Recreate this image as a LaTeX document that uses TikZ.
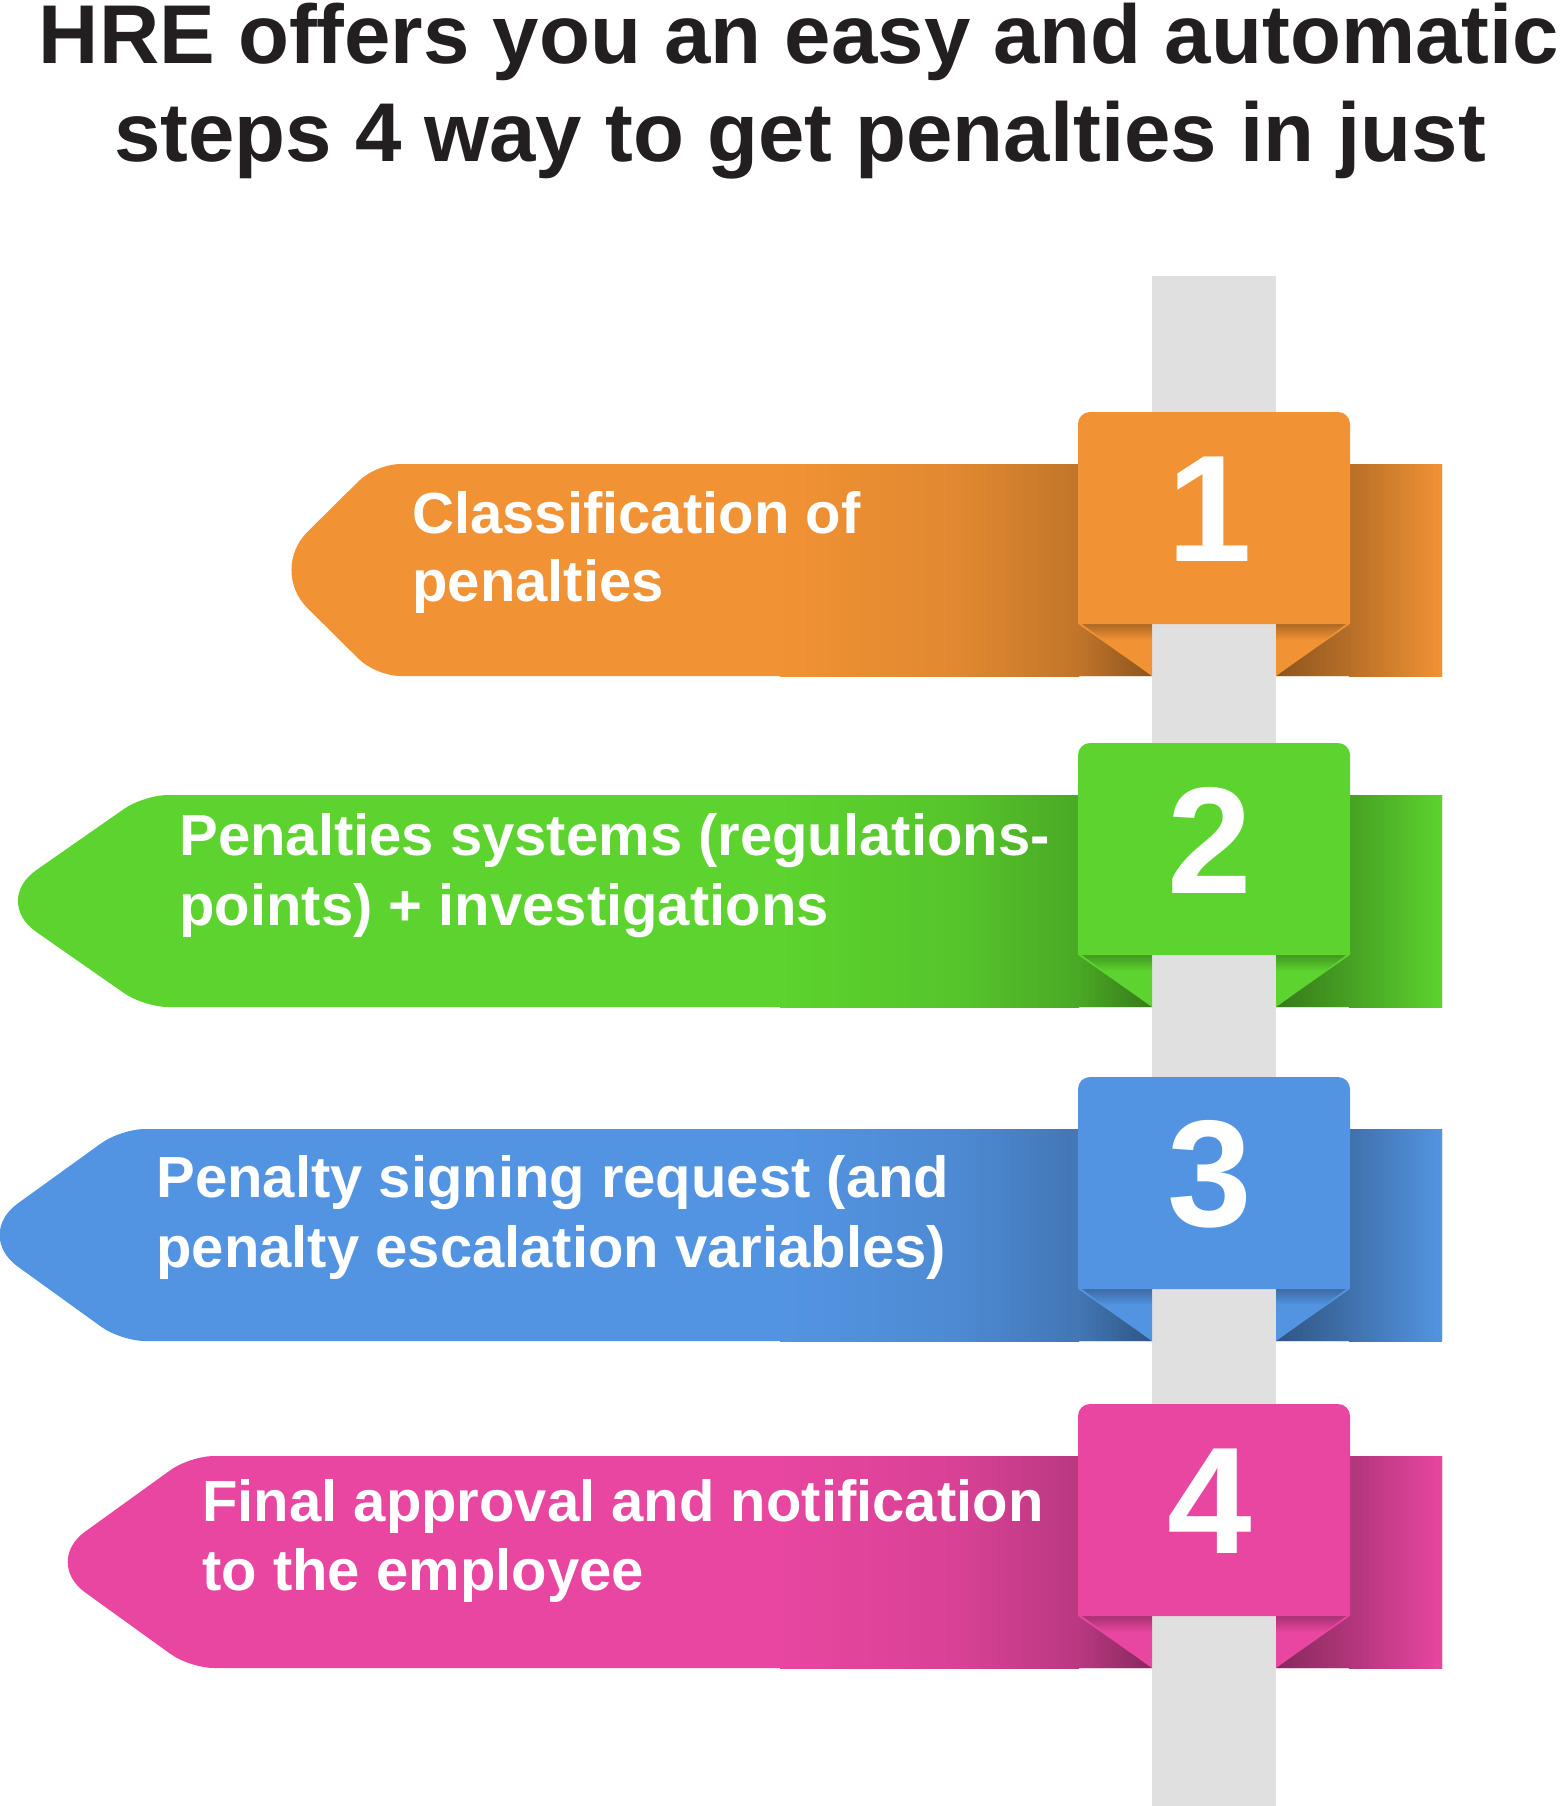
\documentclass[tikz,border=0pt]{standalone}
\usepackage{fontspec}
\setmainfont{Liberation Sans}
\definecolor{cO}{HTML}{F19234}
\definecolor{cG}{HTML}{5CD32E}
\definecolor{cB}{HTML}{5394E2}
\definecolor{cP}{HTML}{E846A0}
\definecolor{poleC}{HTML}{E0E0E0}
\definecolor{ttl}{HTML}{231F20}
\tikzset{
  ttlnode/.style={inner sep=0pt, anchor=base, text=ttl, font=\fontsize{41.7}{41.7}\selectfont\bfseries},
  lblnode/.style={inner sep=0pt, anchor=base west, text=white, font=\fontsize{29}{29}\selectfont\bfseries},
  numnode/.style={inner sep=0pt, anchor=center, text=white, font=\fontsize{76}{76}\selectfont\bfseries},
}
% band: color, top y, corner x, tip x, tip radius
\newcommand\bandbase[5]{%
  \pgfmathsetmacro\bB{#2+212}\pgfmathsetmacro\bM{#2+106}%
  \fill[#1] (1442,\bB) -- (1442,#2) -- (700,#2) [rounded corners=12pt] -- (#3,#2) [rounded corners=#5] -- (#4,\bM) [rounded corners=12pt] -- (#3,\bB) [sharp corners] -- (700,\bB) -- cycle;
  \shade[left color=#1, right color=#1!93!black] (780,#2) rectangle (961,\bB);
  \shade[left color=#1!93!black, right color=#1!80!black] (960,#2) rectangle (1079,\bB);
  \shade[left color=#1!76!black, right color=#1] (1349,#2) rectangle (1442,\bB);
}
% number box: color, band top, node name, digit
\newcommand\numbox[4]{%
  \pgfmathsetmacro\tT{#2-52}\pgfmathsetmacro\tX{#2+160}\pgfmathsetmacro\tB{#2+212}\pgfmathsetmacro\tC{#2+54}\pgfmathsetmacro\tD{#2+45}%
  \shade[left color=#1!80!black, right color=#1!58!black] (1078,\tX) -- (1152,\tB) -- (1078,\tB) -- cycle;
  \shade[left color=#1!58!black, right color=#1!76!black] (1276,\tB) -- (1350,\tX) -- (1350,\tB) -- cycle;
  \fill[#1] (1082,\tX) -- (1152,\tX) -- (1152,\tB) -- cycle;
  \fill[#1] (1346,\tX) -- (1276,\tX) -- (1276,\tB) -- cycle;
  \begin{scope}
    \clip (1082,\tX) -- (1152,\tX) -- (1152,\tB) -- cycle;
    \shade[top color=#1!72!black, bottom color=#1] (1078,\tX) rectangle (1152,\tX+16);
  \end{scope}
  \begin{scope}
    \clip (1346,\tX) -- (1276,\tX) -- (1276,\tB) -- cycle;
    \shade[top color=#1!72!black, bottom color=#1] (1276,\tX) rectangle (1350,\tX+16);
  \end{scope}
  \fill[#1] (1214,\tX) -- (1078,\tX) -- (1078,\tC) [rounded corners=6pt] -- (1078,\tT) -- (1350,\tT) -- (1350,\tC) [sharp corners] -- (1350,\tX) -- cycle;
  \node[numnode] (#3) at (1210,\tD) {#4};
}
\begin{document}
\begin{tikzpicture}[x=0.5pt, y=-0.5pt]
\useasboundingbox[fill=white] (0,0) rectangle (1561,1806);

% title
\node[ttlnode] (t1) at (799,63) {HRE offers you an easy and automatic};
\node[ttlnode] (t2) at (800,161) {steps 4 way to get penalties in just};

% bands
\bandbase{cO}{464}{376}{269}{27pt}
\bandbase{cG}{795}{144}{-8}{27pt}
\bandbase{cB}{1129}{121}{-26}{27pt}
\bandbase{cP}{1456}{190}{43}{26pt}

% pole
\fill[poleC] (1152,276) rectangle (1276,1806);

% number boxes
\numbox{cO}{464}{n1}{1}
\numbox{cG}{795}{n2}{2}
\numbox{cB}{1129}{n3}{3}
\numbox{cP}{1456}{n4}{4}

% labels
\node[lblnode] (a1) at (412,533) {Classification of};
\node[lblnode] (a2) at (412,601) {penalties};
\node[lblnode] (b1) at (179,855) {Penalties systems (regulations-};
\node[lblnode] (b2) at (179,925) {points) + investigations};
\node[lblnode] (c1) at (156,1197) {Penalty signing request (and};
\node[lblnode] (c2) at (156,1267) {penalty escalation variables)};
\node[lblnode] (d1) at (202,1521) {Final approval and notification};
\node[lblnode] (d2) at (202,1590) {to the employee};
\end{tikzpicture}
\end{document}
